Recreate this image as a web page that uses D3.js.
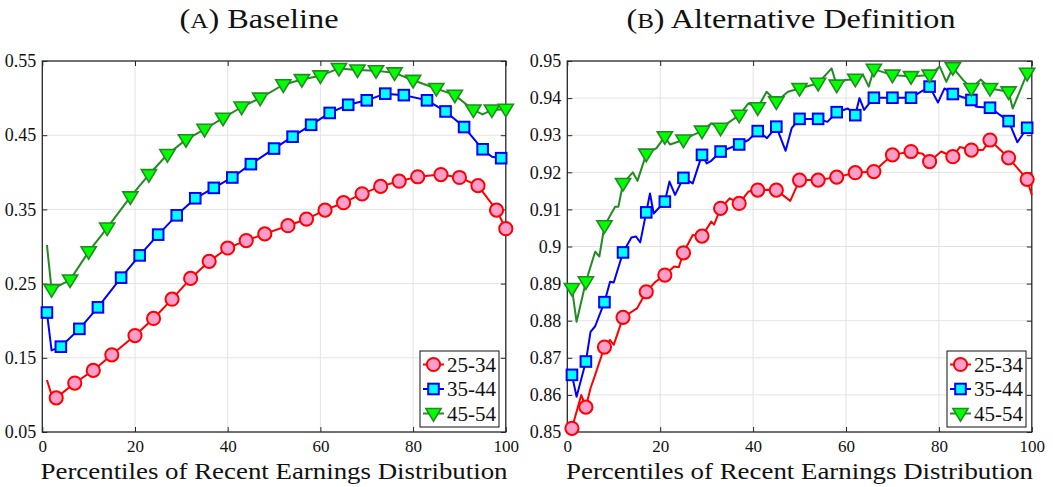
<!DOCTYPE html>
<html><head><meta charset="utf-8">
<script src="https://cdn.jsdelivr.net/npm/d3@7"></script>
<style>body{margin:0;background:#fff}svg{display:block}
svg text{font-family:"Liberation Serif","Times New Roman","DejaVu Serif",serif !important}</style>
</head><body>
<svg id="c" width="1053" height="487"></svg>
<script>
// ---------- DATA ----------
const seriesNames = ["25-34", "35-44", "45-54"];
const xTicks = [0, 20, 40, 60, 80, 100];
const leftYTicks = [0.05, 0.15, 0.25, 0.35, 0.45, 0.55];
const rightYTicks = [0.85, 0.86, 0.87, 0.88, 0.89, 0.9, 0.91, 0.92, 0.93, 0.94, 0.95];

// Panel A (Baseline)
const aRedMX = [3,7,11,15,20,24,28,32,36,40,44,48,53,57,61,65,69,73,77,81,86,90,94,98,100];
const aRedMY = [0.096,0.116,0.133,0.154,0.180,0.203,0.229,0.257,0.280,0.298,0.308,0.317,0.328,0.337,0.349,0.359,0.371,0.381,0.388,0.394,0.397,0.393,0.382,0.349,0.324];
const aRedEX = [1,2];
const aRedEY = [0.120,0.100];

const aBlueMX = [1,4,8,12,17,21,25,29,33,37,41,45,50,54,58,62,66,70,74,78,83,87,91,95,99];
const aBlueMY = [0.211,0.165,0.189,0.218,0.258,0.288,0.316,0.342,0.365,0.379,0.393,0.411,0.432,0.448,0.464,0.480,0.491,0.497,0.506,0.504,0.497,0.482,0.461,0.431,0.419];
const aBlueEX = [2,97];
const aBlueEY = [0.160,0.421];

const aGreenMX = [2,6,10,14,19,23,27,31,35,39,43,47,52,56,60,64,68,72,76,80,85,89,93,97,100];
const aGreenMY = [0.242,0.255,0.293,0.325,0.367,0.397,0.424,0.444,0.458,0.473,0.488,0.500,0.518,0.525,0.530,0.540,0.538,0.537,0.534,0.524,0.513,0.504,0.484,0.484,0.485];
const aGreenEX = [1,95];
const aGreenEY = [0.302,0.478];

// Panel B (Alternative Definition)
const bMX = [1,4,8,12,17,21,25,29,33,37,41,45,50,54,58,62,66,70,74,78,83,87,91,95,99];
const bRedMY = [0.8510,0.8567,0.8729,0.8809,0.8878,0.8923,0.8983,0.9028,0.9103,0.9116,0.9152,0.9152,0.9179,0.9179,0.9187,0.9199,0.9202,0.9247,0.9256,0.9229,0.9242,0.9260,0.9287,0.9239,0.9181];
const bRedEX = [3,5,6,9.2,10,15,19,23,24,27,31,31.6,35,39,43,48,76.5,80.5,84.5,89.5,100];
const bRedEY = [0.860,0.8618,0.8654,0.8748,0.8735,0.8833,0.8905,0.8946,0.8944,0.9031,0.9067,0.9059,0.9130,0.9148,0.9153,0.9123,0.9250,0.9256,0.9268,0.9260,0.9139];

const bBlueMY = [0.8654,0.8690,0.8850,0.8984,0.9092,0.9121,0.9185,0.9247,0.9256,0.9275,0.9311,0.9323,0.9344,0.9344,0.9362,0.9354,0.9401,0.9401,0.9401,0.9431,0.9411,0.9395,0.9374,0.9338,0.9320];
const bBlueEX = [2,5,6,9.2,10,13.8,14.8,15.7,17.8,18.6,22,23.2,27,30,31,39,43,47,48.3,56,60.4,62.9,63.9,79.8,81.2,88,96.9];
const bBlueEY = [0.8595,0.8770,0.8785,0.8905,0.8903,0.9024,0.9027,0.9011,0.9143,0.9089,0.9175,0.9139,0.9170,0.9224,0.9231,0.9287,0.9292,0.9258,0.9319,0.9336,0.9372,0.9400,0.9368,0.9388,0.9426,0.9377,0.9281];

const bGreenMY = [0.8887,0.8905,0.9056,0.9170,0.9249,0.9296,0.9287,0.9311,0.9319,0.9354,0.9374,0.9390,0.9426,0.9440,0.9435,0.9451,0.9478,0.9462,0.9458,0.9462,0.9482,0.9426,0.9426,0.9417,0.9467];
const bGreenEX = [2,6,6.9,10.3,11,14.1,15.1,19.2,22.1,27,31,39,42.9,47.5,56.9,59.9,63.7,64.9,80.2,81.6,85.2,89,95.9];
const bGreenEY = [0.8797,0.8986,0.8973,0.9107,0.9107,0.9200,0.9177,0.9265,0.9275,0.9300,0.9332,0.9386,0.9417,0.9417,0.9480,0.9449,0.9462,0.9431,0.9485,0.9444,0.9449,0.9450,0.9372];

// ---------- STYLE ----------
const styles = [
  {line:"#ff0000", fill:"#ff9ecb", stroke:"#ff0000", shape:"circle"},
  {line:"#0000ff", fill:"#00ffff", stroke:"#0000ff", shape:"square"},
  {line:"#228b22", fill:"#00ff00", stroke:"#228b22", shape:"tri"}
];

function mk(mx,my,ex,ey){
  const markers = mx.map((x,i)=>({x, y:my[i]}));
  const pts = markers.concat(ex.map((x,i)=>({x, y:ey[i]}))).sort((a,b)=>a.x-b.x);
  return {markers, pts};
}

const panels = [
  {title:["(","A",") Baseline"], titleX:259, titleW:159,
   x0:42.3, x1:505.8, yTop:61, yBot:432, yDomain:[0.05,0.55], yTicks:leftYTicks, fmt:d3.format(".2f"),
   series:[mk(aRedMX,aRedMY,aRedEX,aRedEY), mk(aBlueMX,aBlueMY,aBlueEX,aBlueEY), mk(aGreenMX,aGreenMY,aGreenEX,aGreenEY)],
   legend:{x:420, y:351, w:79, h:76}},
  {title:["(","B",") Alternative Definition"], titleX:791, titleW:329,
   x0:567.3, x1:1031.8, yTop:61, yBot:432, yDomain:[0.85,0.95], yTicks:rightYTicks, fmt:d3.format(".2~f"),
   series:[mk(bMX,bRedMY,bRedEX,bRedEY), mk(bMX,bBlueMY,bBlueEX,bBlueEY), mk(bMX,bGreenMY,bGreenEX,bGreenEY)],
   legend:{x:947, y:351, w:79, h:76}}
];

const svg = d3.select("#c");
svg.append("rect").attr("width",1053).attr("height",487).attr("fill","#fff");
const FONT = "Liberation Serif";
const AX = "#262626";

function drawMarker(g, shape, st, x, y){
  if(shape==="circle"){
    g.append("circle").attr("cx",x).attr("cy",y).attr("r",6.6)
      .attr("fill",st.fill).attr("stroke",st.stroke).attr("stroke-width",2);
  } else if(shape==="square"){
    const s=10.6;
    g.append("rect").attr("x",x-s/2).attr("y",y-s/2).attr("width",s).attr("height",s)
      .attr("fill",st.fill).attr("stroke",st.stroke).attr("stroke-width",2);
  } else {
    const w=7.6, h=6.6;
    g.append("path").attr("d",`M${x-w},${y-h*0.75}L${x+w},${y-h*0.75}L${x},${y+h*1.15}Z`)
      .attr("fill",st.fill).attr("stroke",st.stroke).attr("stroke-width",1.6).attr("stroke-linejoin","miter");
  }
}

panels.forEach(p=>{
  const x = d3.scaleLinear().domain([0,100]).range([p.x0,p.x1]);
  const y = d3.scaleLinear().domain(p.yDomain).range([p.yBot,p.yTop]);
  const g = svg.append("g");

  // grid
  g.append("g").selectAll("line").data(xTicks.slice(1,-1)).join("line")
    .attr("x1",d=>x(d)).attr("x2",d=>x(d)).attr("y1",p.yTop).attr("y2",p.yBot)
    .attr("stroke","#e3e3e3").attr("stroke-width",1);
  g.append("g").selectAll("line").data(p.yTicks.slice(1,-1)).join("line")
    .attr("y1",d=>y(d)).attr("y2",d=>y(d)).attr("x1",p.x0).attr("x2",p.x1)
    .attr("stroke","#e3e3e3").attr("stroke-width",1);

  // axes
  const bx = g.append("g").attr("transform",`translate(0,${p.yBot})`)
    .call(d3.axisBottom(x).tickValues(xTicks).tickSize(-5).tickPadding(8).tickFormat(d3.format("d")));
  const tx = g.append("g").attr("transform",`translate(0,${p.yTop})`)
    .call(d3.axisTop(x).tickValues(xTicks).tickSize(-5).tickFormat(""));
  const ly = g.append("g").attr("transform",`translate(${p.x0},0)`)
    .call(d3.axisLeft(y).tickValues(p.yTicks).tickSize(-5).tickPadding(6).tickFormat(p.fmt));
  const ry = g.append("g").attr("transform",`translate(${p.x1},0)`)
    .call(d3.axisRight(y).tickValues(p.yTicks).tickSize(-5).tickFormat(""));
  [bx,tx,ly,ry].forEach(a=>{
    a.attr("font-family",FONT);
    a.select(".domain").attr("d", null);
    a.selectAll(".tick line").attr("stroke",AX).attr("stroke-width",1);
    a.selectAll("text").attr("font-size",18).attr("fill","#111");
  });
  bx.selectAll("text").attr("font-size",17);
  g.append("rect").attr("x",p.x0).attr("y",p.yTop).attr("width",p.x1-p.x0).attr("height",p.yBot-p.yTop)
    .attr("fill","none").attr("stroke",AX).attr("stroke-width",1.3);

  // series
  const line = d3.line().x(d=>x(d.x)).y(d=>y(d.y));
  p.series.forEach((s,i)=>{
    const st = styles[i];
    const sg = g.append("g");
    sg.append("path").datum(s.pts).attr("d",line).attr("fill","none")
      .attr("stroke",st.line).attr("stroke-width",2).attr("stroke-linejoin","round");
    s.markers.forEach(m=>drawMarker(sg, st.shape, st, x(m.x), y(m.y)));
  });

  // x label
  g.append("text").attr("x",(p.x0+p.x1)/2).attr("y",479).attr("text-anchor","middle")
    .attr("font-size",24).attr("fill","#111")
    .attr("textLength",467).attr("lengthAdjust","spacingAndGlyphs")
    .text("Percentiles of Recent Earnings Distribution");

  // title
  const t = g.append("text").attr("x",p.titleX).attr("y",28).attr("text-anchor","middle")
    .attr("font-size",27).attr("fill","#111")
    .attr("textLength",p.titleW).attr("lengthAdjust","spacingAndGlyphs");
  t.append("tspan").text(p.title[0]);
  t.append("tspan").attr("font-size",21).text(p.title[1]);
  t.append("tspan").text(p.title[2]);

  // legend
  const L = p.legend;
  const lg = g.append("g");
  lg.append("rect").attr("x",L.x).attr("y",L.y).attr("width",L.w).attr("height",L.h)
    .attr("fill","#fff").attr("stroke","#111").attr("stroke-width",1);
  seriesNames.forEach((n,i)=>{
    const cy = L.y + 13.5 + i*24.5;
    const st = styles[i];
    lg.append("line").attr("x1",L.x+3).attr("x2",L.x+24).attr("y1",cy).attr("y2",cy)
      .attr("stroke",st.line).attr("stroke-width",2);
    drawMarker(lg, st.shape, st, L.x+13.5, cy);
    lg.append("text").attr("x",L.x+27).attr("y",cy+7)
      .attr("font-size",21).attr("fill","#111").text(n);
  });
});
</script>
</body></html>
